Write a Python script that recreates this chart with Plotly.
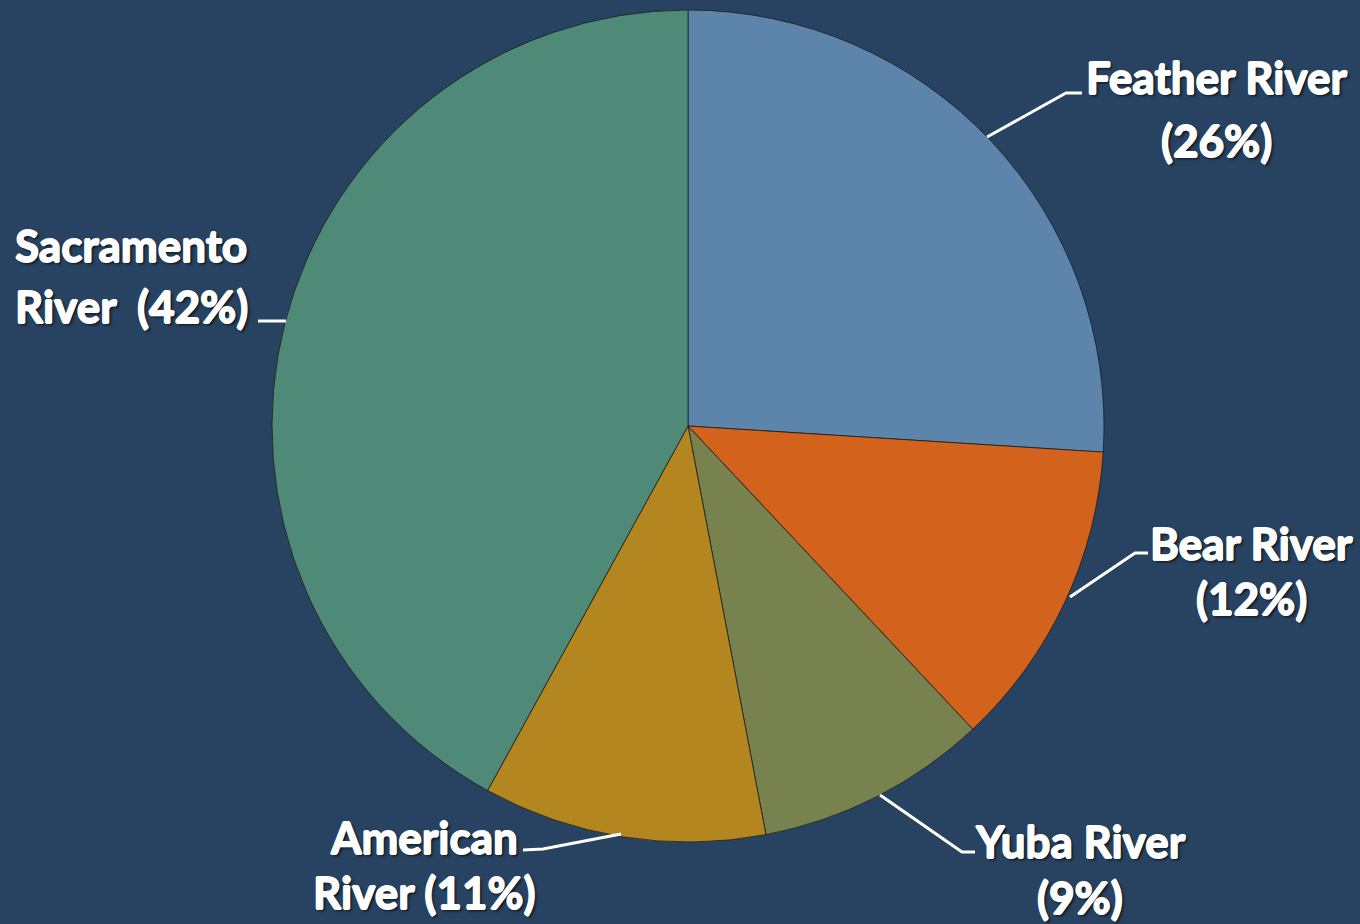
import plotly.graph_objects as go

# ---- data ----
rivers = ["Feather River", "Bear River", "Yuba River", "American River", "Sacramento River"]
shares = [26, 12, 9, 11, 42]
colors = ["#5d84aa", "#d3621c", "#78824f", "#b3861f", "#4f8a78"]

# label lines as shown in the chart
label_lines = {
    "Feather River": ["Feather River", "(26%)"],
    "Bear River": ["Bear River", "(12%)"],
    "Yuba River": ["Yuba River", "(9%)"],
    "American River": ["American", "River (11%)"],
    "Sacramento River": ["Sacramento", "River  (42%)"],
}

W, H = 1360, 924
cx, cy, R = 688, 426, 416

fig = go.Figure()
fig.add_trace(go.Pie(
    labels=rivers, values=shares, sort=False, direction="clockwise", rotation=0,
    marker=dict(colors=colors, line=dict(color="rgba(20,20,20,0.7)", width=1)),
    textinfo="none", hoverinfo="label+percent", showlegend=False,
    domain=dict(x=[(cx - R) / W, (cx + R) / W], y=[1 - (cy + R) / H, 1 - (cy - R) / H]),
))

# label layout (pixel positions: [anchor, x, y for each line])
label_pos = {
    "Feather River": ("center", 1216, [77, 140]),
    "Bear River": ("center", 1251, [543, 598]),
    "Yuba River": ("center", 1080, [841, 897]),
    "American River": ("center", 424, [837, 892]),
    "Sacramento River": ("left", 13, [245, 306]),
}
leaders = {
    "Feather River": [(987, 137), (1066, 93), (1082, 93)],
    "Bear River": [(1070, 597), (1135, 553), (1148, 553)],
    "Yuba River": [(880, 795), (962, 852), (975, 852)],
    "American River": [(523, 850), (543, 849), (621, 834)],
    "Sacramento River": [(258, 321), (286, 321)],
}

thick = ("0.8px 0 0 white, -0.8px 0 0 white, 0 0.8px 0 white, 0 -0.8px 0 white, "
         "2px 2px 3px rgba(0,0,0,0.75)")
font = dict(family="Lato", size=44, color="white", weight="bold", shadow=thick)
annotations = []
for name in rivers:
    anchor, x, ys = label_pos[name]
    for line, y in zip(label_lines[name], ys):
        annotations.append(dict(
            x=x, y=y, xref="x", yref="y", text=line, showarrow=False,
            xanchor=anchor, yanchor="middle", font=font,
        ))

shapes = []
for name in rivers:
    pts = leaders[name]
    path = "M " + " L ".join(f"{px},{py}" for px, py in pts)
    shapes.append(dict(type="path", path=path, xref="x", yref="y",
                       line=dict(color="white", width=3)))

fig.update_layout(
    width=W, height=H,
    margin=dict(l=0, r=0, t=0, b=0),
    paper_bgcolor="#284361",
    plot_bgcolor="rgba(0,0,0,0)",
    xaxis=dict(range=[0, W], visible=False, domain=[0, 1], fixedrange=True),
    yaxis=dict(range=[H, 0], visible=False, domain=[0, 1], fixedrange=True),
    annotations=annotations,
    shapes=shapes,
)

fig.write_html("out.html", config={"displayModeBar": False},
               post_script="document.body.style.margin='0';")
